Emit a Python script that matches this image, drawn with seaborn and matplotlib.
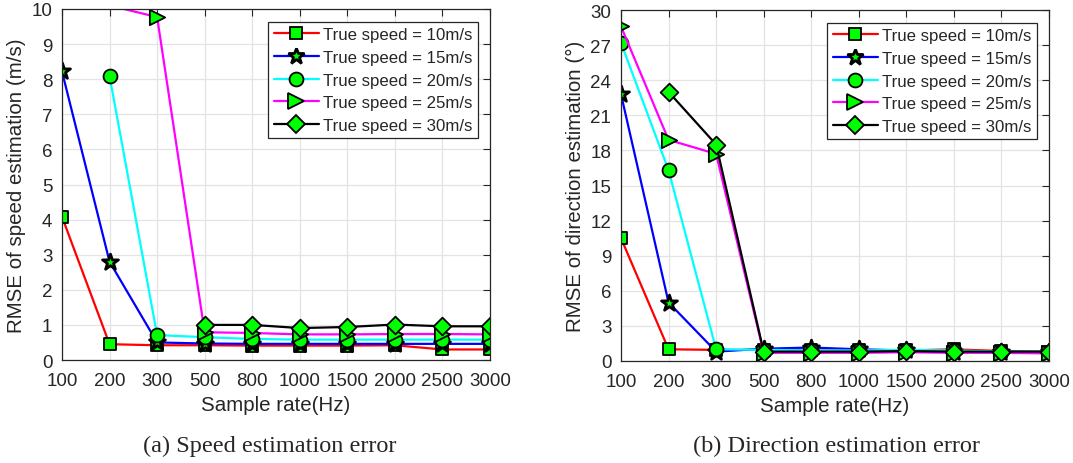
import numpy as np
import pandas as pd
import matplotlib
matplotlib.use("Agg")
import matplotlib.pyplot as plt
from matplotlib.lines import Line2D
import seaborn as sns

sample_rates = ["100", "200", "300", "500", "800", "1000", "1500", "2000", "2500", "3000"]
series_labels = ["True speed = 10m/s", "True speed = 15m/s", "True speed = 20m/s",
                 "True speed = 25m/s", "True speed = 30m/s"]

nan = np.nan
# (a) speed RMSE (m/s)
speed_10 = [4.08, 0.45, 0.42, 0.42, 0.41, 0.41, 0.41, 0.42, 0.30, 0.30]
speed_15 = [8.22, 2.80, 0.50, 0.47, 0.46, 0.46, 0.46, 0.46, 0.46, 0.46]
speed_20 = [nan, 8.09, 0.71, 0.65, 0.60, 0.58, 0.58, 0.58, 0.58, 0.58]
speed_25 = [nan, 10.10, 9.77, 0.79, 0.77, 0.73, 0.73, 0.74, 0.74, 0.73]
speed_30 = [nan, nan, nan, 1.00, 1.00, 0.91, 0.94, 1.01, 0.96, 0.96]

# (b) direction RMSE (deg)
dir_10 = [10.5, 1.0, 0.95, 0.95, 0.9, 0.9, 0.9, 1.0, 0.85, 0.8]
dir_15 = [22.8, 5.0, 0.8, 1.05, 1.15, 1.0, 0.9, 0.8, 0.8, 0.75]
dir_20 = [27.2, 16.3, 1.0, 0.95, 0.9, 0.9, 0.95, 0.9, 0.8, 0.8]
dir_25 = [28.6, 18.9, 17.7, 0.7, 0.7, 0.7, 0.75, 0.7, 0.7, 0.65]
dir_30 = [nan, 23.0, 18.5, 0.8, 0.8, 0.8, 0.85, 0.8, 0.8, 0.8]

colors = ["#FF0000", "#0000FF", "#00FFFF", "#FF00FF", "#000000"]
markers = ["s", "*", "o", ">", "D"]
msizes = [8, 12, 10, 11, 9]
medgew = [1.3, 2.0, 1.3, 1.3, 1.3]

sns.set_style("white")
plt.rcParams["font.family"] = ["Liberation Sans", "DejaVu Sans"]

fig = plt.figure(figsize=(10.73, 4.64), dpi=100)
ax1 = fig.add_axes([62/1073, 1-361/464, 428/1073, 351/464])
ax2 = fig.add_axes([621/1073, 1-362/464, 428/1073, 351/464])

xpos = np.arange(len(sample_rates))

def draw(ax, series, ymax, ystep, ylabel):
    handles = []
    for i, (vals, c, m, ms, mew, lab) in enumerate(
            zip(series, colors, markers, msizes, medgew, series_labels)):
        df = pd.DataFrame({"x": xpos, "y": vals}).dropna()
        sns.lineplot(data=df, x="x", y="y", ax=ax, color=c, linewidth=1.6,
                     zorder=3 + 2 * i, legend=False)
        # like MATLAB: markers only for points inside the y limits
        inside = df[(df["y"] >= 0) & (df["y"] <= ymax)]
        sns.scatterplot(data=inside, x="x", y="y", ax=ax, marker=m, s=ms ** 2,
                        color="#00FF00", edgecolor="black", linewidth=mew,
                        zorder=4 + 2 * i, legend=False)
        handles.append(Line2D([], [], color=c, linewidth=1.6, marker=m,
                              markersize=ms, markerfacecolor="#00FF00",
                              markeredgecolor="black", markeredgewidth=mew,
                              label=lab))
    ax.set_xlim(0, len(sample_rates) - 1)
    ax.set_ylim(0, ymax)
    ax.set_xticks(xpos)
    ax.set_xticklabels(sample_rates)
    ax.set_yticks(np.arange(0, ymax + 0.01, ystep))
    ax.set_yticklabels([f"{v:g}" for v in np.arange(0, ymax + 0.01, ystep)])
    ax.grid(True, color="#e3e3e3", linewidth=0.9)
    ax.set_axisbelow(True)
    for s in ax.spines.values():
        s.set_visible(True)
        s.set_color("#262626")
        s.set_linewidth(0.9)
        s.set_zorder(20)
    ax.tick_params(direction="in", top=True, right=True, length=5, width=0.8,
                   color="#262626", labelsize=13.5, labelcolor="#262626")
    ax.tick_params(axis="x", pad=9)
    ax.tick_params(axis="y", pad=7)
    ax.set_xlabel("Sample rate(Hz)", fontsize=14.8, color="#262626", labelpad=4)
    ax.set_ylabel(ylabel, fontsize=14.8, color="#262626", labelpad=4)
    leg = ax.legend(handles=handles, loc="upper right",
                    bbox_to_anchor=(1 - 12/428, 1 - 13/351),
                    fancybox=False, framealpha=1, edgecolor="#262626",
                    fontsize=12.1, handlelength=2.7, labelspacing=0.45,
                    borderpad=0.32, handletextpad=0.25, borderaxespad=0)
    leg.get_frame().set_linewidth(0.9)
    leg.set_zorder(30)

draw(ax1, [speed_10, speed_15, speed_20, speed_25, speed_30], 10, 1,
     "RMSE of speed estimation (m/s)")
draw(ax2, [dir_10, dir_15, dir_20, dir_25, dir_30], 30, 3,
     "RMSE of direction estimation (°)")

fig.text(270/1073, 1-446/464, "(a) Speed estimation error", ha="center", va="center",
         fontsize=17.5, family=["Liberation Serif", "DejaVu Serif"])
fig.text(836/1073, 1-446/464, "(b) Direction estimation error", ha="center", va="center",
         fontsize=17.5, family=["Liberation Serif", "DejaVu Serif"])

fig.savefig("out.png", dpi=100)
